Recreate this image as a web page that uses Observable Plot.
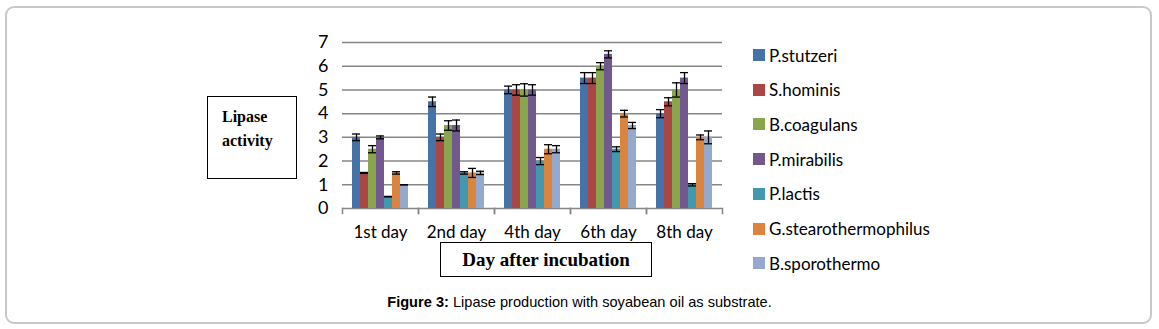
<!DOCTYPE html>
<html>
<head>
<meta charset="utf-8">
<script src="https://cdn.jsdelivr.net/npm/d3@7"></script>
<script src="https://cdn.jsdelivr.net/npm/@observablehq/plot@0.6"></script>
<style>
  body { margin: 0; background: #fff; }
  #wrap { position: relative; width: 1159px; height: 329px; overflow: hidden; }
  #border { position: absolute; left: 5px; top: 6px; width: 1143px; height: 314px; border: 2px solid #c8c8c8; border-radius: 9px; }
  #chart { position: absolute; left: 0; top: 0; }
  .box { position: absolute; border: 1px solid #000; background: #fff; font-family: "Liberation Serif", "Times New Roman", serif; font-weight: bold; color: #000; }
  #legend { position: absolute; left: 0; top: 0; font-family: Lato, "Open Sans", sans-serif; font-size: 17px; color: #000; }
  .li { position: absolute; left: 753px; height: 20px; display: flex; align-items: center; white-space: nowrap; }
  .sw { width: 12px; height: 12px; margin-right: 4px; }
  #caption { position: absolute; left: 0; width: 1159px; top: 294px; text-align: center; font-family: "Liberation Sans", Arial, sans-serif; font-size: 14.6px; color: #000; }
</style>
</head>
<body>
<div id="wrap">
  <div id="border"></div>
  <div id="chart"></div>
  <div class="box" id="ybox" style="left:207px;top:96px;width:88px;height:81px;font-size:16px;line-height:24px;">
    <div style="position:absolute;left:14px;top:8px;">Lipase<br>activity</div>
  </div>
  <div class="box" id="xbox" style="left:440px;top:242px;width:210px;height:33px;font-size:19px;line-height:33px;text-align:center;">Day after incubation</div>
  <div id="legend"></div>
  <div id="caption"><b>Figure 3:</b> Lipase production with soyabean oil as substrate.</div>
</div>
<script>
const days = ["1st day", "2nd day", "4th day", "6th day", "8th day"];
const series = ["P.stutzeri", "S.hominis", "B.coagulans", "P.mirabilis", "P.lactis", "G.stearothermophilus", "B.sporothermo"];
const colors = ["#4572A7", "#AA4643", "#89A54E", "#71588F", "#4198AF", "#DB843D", "#93A9CF"];
const yTicks = [0, 1, 2, 3, 4, 5, 6, 7];

const pStutzeri   = [3.0, 4.5, 5.0, 5.5, 4.0];
const sHominis    = [1.5, 3.0, 5.0, 5.5, 4.5];
const bCoagulans  = [2.5, 3.5, 5.0, 6.0, 5.0];
const pMirabilis  = [3.0, 3.5, 5.0, 6.5, 5.5];
const pLactis     = [0.5, 1.5, 2.0, 2.5, 1.0];
const gStearo     = [1.5, 1.5, 2.5, 4.0, 3.0];
const bSporo      = [1.0, 1.5, 2.5, 3.5, 3.0];

const pStutzeriErr  = [0.14, 0.20, 0.16, 0.23, 0.17];
const sHominisErr   = [0.02, 0.14, 0.22, 0.23, 0.17];
const bCoagulansErr = [0.15, 0.20, 0.26, 0.15, 0.30];
const pMirabilisErr = [0.06, 0.23, 0.22, 0.15, 0.23];
const pLactisErr    = [0.01, 0.05, 0.15, 0.10, 0.05];
const gStearoErr    = [0.05, 0.19, 0.19, 0.14, 0.10];
const bSporoErr     = [0.00, 0.07, 0.15, 0.13, 0.27];

const valueLists = [pStutzeri, sHominis, bCoagulans, pMirabilis, pLactis, gStearo, bSporo];
const errLists = [pStutzeriErr, sHominisErr, bCoagulansErr, pMirabilisErr, pLactisErr, gStearoErr, bSporoErr];

const data = [];
days.forEach((day, i) => {
  series.forEach((s, j) => {
    data.push({day, series: s, value: valueLists[j][i], err: errLists[j][i]});
  });
});

const chart = Plot.plot({
  width: 1159,
  height: 329,
  marginLeft: 340,
  marginRight: 436,
  marginTop: 42,
  marginBottom: 121,
  style: {fontFamily: "Lato, 'Open Sans', sans-serif", background: "transparent", color: "#000"},
  fx: {domain: days, padding: 0, label: null},
  x: {domain: series, paddingInner: 0, paddingOuter: 0.73, axis: null},
  y: {domain: [0, 7], label: null},
  color: {domain: series, range: colors},
  marks: [
    Plot.gridY({ticks: yTicks, stroke: "#868686", strokeOpacity: 1, strokeWidth: 1.5}),
    Plot.axisY({ticks: yTicks, tickFormat: d3.format("d"), tickSize: 0, tickPadding: 14, label: null, fontSize: 18, line: true, stroke: "#868686", strokeWidth: 1.5, fill: "#000"}),
    Plot.axisFx({anchor: "bottom", tickSize: 0, tickPadding: 17, label: null, fontSize: 17, fill: "#000"}),
    Plot.frame({anchor: "left", insetTop: 166, insetBottom: -5, stroke: "#868686", strokeWidth: 1.5}),
    Plot.frame({anchor: "right", insetTop: 166, insetBottom: -5, stroke: "#868686", strokeWidth: 1.5}),
    Plot.barY(data, {fx: "day", x: "series", y: "value", fill: "series"}),
    Plot.ruleX(data, {fx: "day", x: "series", y1: d => d.value - d.err, y2: d => d.value + d.err, stroke: "#000", strokeWidth: 1.3}),
    Plot.tickY(data, {fx: "day", x: "series", y: d => d.value - d.err, stroke: "#000", strokeWidth: 1.3}),
    Plot.tickY(data, {fx: "day", x: "series", y: d => d.value + d.err, stroke: "#000", strokeWidth: 1.3})
  ]
});
document.getElementById("chart").appendChild(chart);

const legend = document.getElementById("legend");
series.forEach((s, i) => {
  const item = document.createElement("div");
  item.className = "li";
  item.style.top = (45 + i * 34.7) + "px";
  const sw = document.createElement("span");
  sw.className = "sw";
  sw.style.background = colors[i];
  const tx = document.createElement("span");
  tx.textContent = s;
  item.appendChild(sw);
  item.appendChild(tx);
  legend.appendChild(item);
});
</script>
</body>
</html>
